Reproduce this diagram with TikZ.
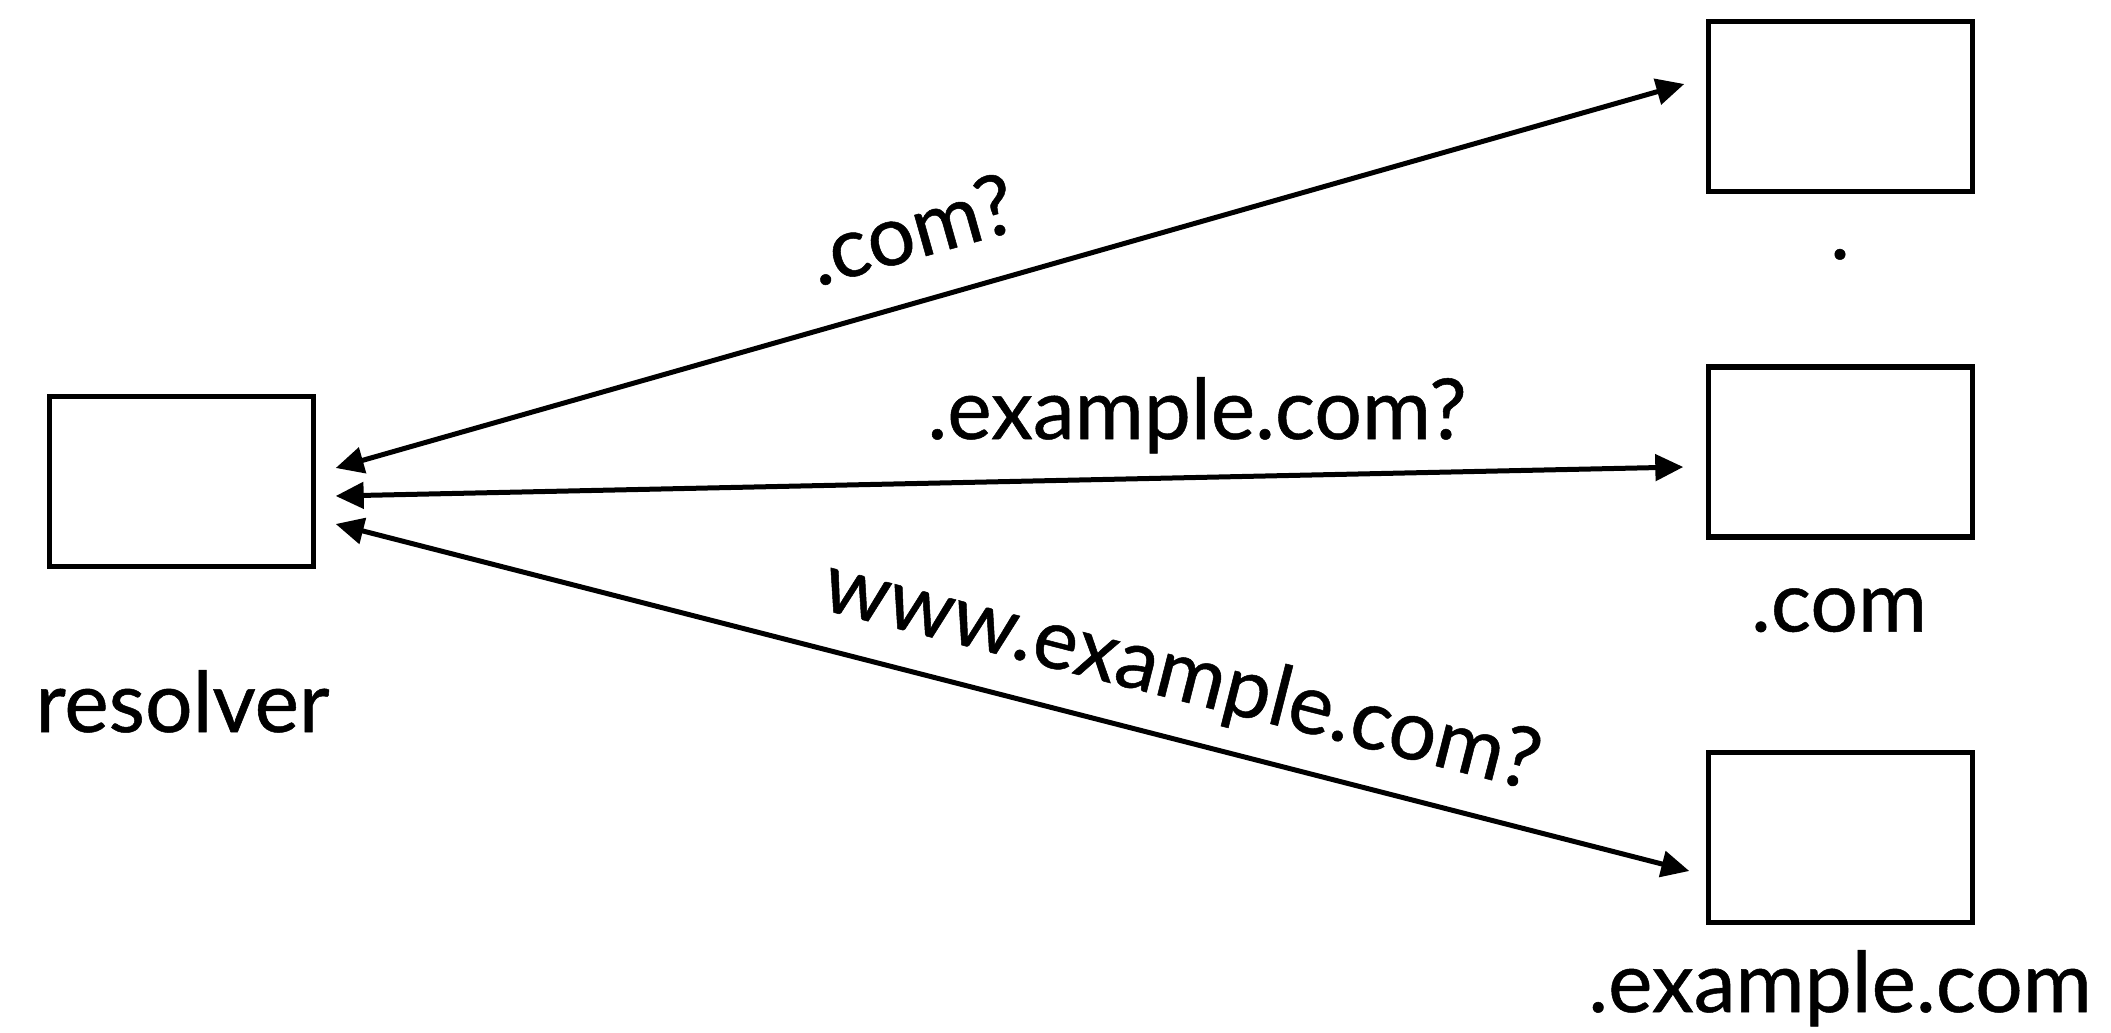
\documentclass[tikz,border=0pt]{standalone}
\usepackage{fontspec}
\setmainfont{Lato}[FakeBold=0.6]
\usetikzlibrary{arrows.meta,calc}
\begin{document}
\begin{tikzpicture}[x=0.5pt,y=-0.5pt,
  srv/.style={draw=black,line width=2.7pt,minimum width=132pt,minimum height=85pt,inner sep=0pt},
  lbl/.style={font=\fontsize{42}{50}\selectfont,inner sep=0pt},
  conn/.style={line width=2.5pt,{Triangle[length=14pt,width=13pt]}-{Triangle[length=14pt,width=13pt]}}]
\useasboundingbox (0,0) rectangle (2111,1033);
\node[srv] (res) at (181.5,481.5) {};
\node[srv] (root) at (1840.5,106.5) {};
\node[srv] (com) at (1840.5,452) {};
\node[srv] (ex) at (1840.5,837.5) {};
\node[lbl,anchor=base] (lres) at (182.5,732) {resolver};
\node[lbl,anchor=base] (lroot) at (1840,259) {.};
\node[lbl,anchor=base] (lcom) at (1839,631.5) {.com};
\node[lbl,anchor=base] (lex) at (1840,1012) {.example.com};
\draw[conn] ($(res.east)+(19.5,-13.5)$) -- ($(root.west)+(-21.5,-22.5)$);
\draw[conn] ($(res.east)+(19.5,14.5)$) -- ($(com.west)+(-22.5,15)$);
\draw[conn] ($(res.east)+(19.5,42.5)$) -- ($(ex.west)+(-16.5,33.5)$);
\node[lbl,rotate=15.8] (q1) at (911,229) {.com?};
\node[lbl,anchor=base] (q2) at (1197,439) {.example.com?};
\node[lbl,rotate=-14.3] (q3) at (1181,676.5) {www.example.com?};
\end{tikzpicture}
\end{document}
